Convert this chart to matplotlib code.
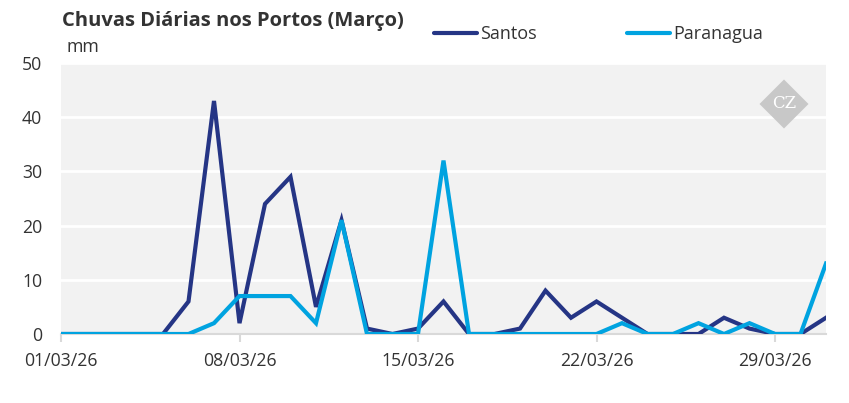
import matplotlib
matplotlib.use("Agg")
import matplotlib.pyplot as plt
import matplotlib.dates as mdates
from matplotlib.patches import RegularPolygon
import pandas as pd

dates = pd.date_range("2026-03-01", "2026-03-31", freq="D")
santos = [0, 0, 0, 0, 0, 6, 43, 2, 24, 29, 5, 21, 1, 0, 1, 6, 0, 0, 1, 8,
          3, 6, 3, 0, 0, 0, 3, 1, 0, 0, 3]
paranagua = [0, 0, 0, 0, 0, 0, 2, 7, 7, 7, 2, 21, 0, 0, 0, 32, 0, 0, 0, 0,
             0, 0, 2, 0, 0, 2, 0, 2, 0, 0, 13]
xtick_dates = ["2026-03-01", "2026-03-08", "2026-03-15", "2026-03-22", "2026-03-29"]
yticks = [0, 10, 20, 30, 40, 50]

plt.rcParams['font.family'] = ['Open Sans', 'DejaVu Sans']
txt = "#333333"
c_santos = "#253585"
c_par = "#00a3e0"

fig = plt.figure(figsize=(8.49, 4.03), dpi=100)
ax = fig.add_axes([61/849, 69/403, (826-61)/849, (334-63)/403])
ax.set_facecolor("#f2f2f2")

ax.plot(dates, santos, color=c_santos, lw=3, solid_joinstyle='miter', label="Santos", zorder=3)
ax.plot(dates, paranagua, color=c_par, lw=3, solid_joinstyle='miter', label="Paranagua", zorder=4)

ax.set_xlim(dates[0], dates[-1])
ax.set_ylim(0, 50)
ax.set_yticks(yticks)
ax.yaxis.grid(True, color="white", lw=2)
ax.set_axisbelow(True)
ax.set_xticks(pd.to_datetime(xtick_dates))
ax.xaxis.set_major_formatter(mdates.DateFormatter("%d/%m/%y"))

for s in ["top", "right", "left"]:
    ax.spines[s].set_visible(False)
ax.spines["bottom"].set_color("#d9d9d9")
ax.spines["bottom"].set_linewidth(1.5)
ax.tick_params(axis='y', length=0, pad=13.5, labelsize=12.7, labelcolor=txt)
ax.tick_params(axis='x', length=6, width=1.5, color="#d9d9d9", pad=7, labelsize=12.7, labelcolor=txt)

fig.text(62/849, 1-21/403, "Chuvas Diárias nos Portos (Março)", fontsize=14.5, fontweight='bold',
         color=txt, va='center', ha='left')
fig.text(66/849, 1-47/403, "mm", fontsize=12.7, color=txt, va='center', ha='left')

leg = fig.legend(loc='center left', bbox_to_anchor=(434/849, 1-34/403), ncol=2, frameon=False,
                 fontsize=13, handlelength=2.4, handletextpad=0.15, columnspacing=5.0,
                 borderpad=0, borderaxespad=0)
for t in leg.get_texts():
    t.set_color(txt)
for h in leg.legend_handles:
    h.set_solid_capstyle('round')

# watermark
cx, cy = 784/100, (403-104)/100
fig.add_artist(RegularPolygon((cx, cy), numVertices=4, radius=0.245,
                              orientation=0, transform=fig.dpi_scale_trans, facecolor="#c8c8c8",
                              edgecolor='none', zorder=2))
fig.text(cx/8.49, cy/4.03, "CZ", fontsize=12, color="white", ha='center', va='center',
         family='DejaVu Serif', zorder=5)

fig.savefig("out.png", dpi=100)
